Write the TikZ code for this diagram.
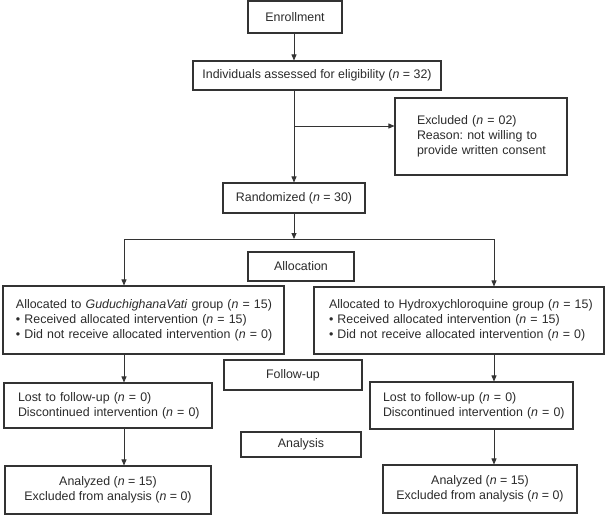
\documentclass[tikz,border=0pt]{standalone}
\usepackage{fontspec}
\setmainfont{Liberation Sans}
\usetikzlibrary{arrows.meta,calc}
\definecolor{ink}{HTML}{2B2B2B}
\definecolor{edge}{HTML}{333333}
\frenchspacing
\begin{document}
\begin{tikzpicture}[x=1pt,y=-1pt,
  box/.style={draw=edge, line width=1.1pt, inner sep=0pt, text=ink,
    font=\fontsize{12.4}{15}\selectfont, align=center},
  lbox/.style={box, align=left},
  arr/.style={draw=edge, line width=0.8pt, -{Triangle[length=6pt,width=5pt]}},
  ln/.style={draw=edge, line width=0.8pt}]
\useasboundingbox[fill=white] (0,0) rectangle (606,515);

\node[box, minimum width=94pt, minimum height=32pt] (enroll) at (295,17) {Enrollment};
\node[box, minimum width=248pt, minimum height=29pt] (elig) at (317,75.5)
  {Individuals assessed for eligibility (\textit{n} = 32)};
\node[lbox, text width=128pt, inner xsep=22pt, minimum height=77pt] (excl) at (481,136.5)
  {\mbox{Excluded (\textit{n} = 02)}\\\mbox{Reason: not willing to}\\\mbox{provide written consent}};
\node[box, minimum width=142pt, minimum height=30pt] (rand) at (294,198)
  {Randomized (\textit{n} = 30)};
\node[box, minimum width=106pt, minimum height=29pt] (alloc) at (301,266.5) {Allocation};

\node[lbox, text width=255pt, inner xsep=13pt, minimum height=68pt] (la) at (143.5,320)
  {\mbox{Allocated to \textit{GuduchighanaVati} group (\textit{n} = 15)}\\
   \mbox{\textbullet{} Received allocated intervention (\textit{n} = 15)}\\
   \mbox{\textbullet{} Did not receive allocated intervention (\textit{n} = 0)}};
\node[lbox, text width=260pt, inner xsep=15pt, minimum height=67pt] (ra) at (459,320.5)
  {\mbox{Allocated to Hydroxychloroquine group (\textit{n} = 15)}\\
   \mbox{\textbullet{} Received allocated intervention (\textit{n} = 15)}\\
   \mbox{\textbullet{} Did not receive allocated intervention (\textit{n} = 0)}};

\node[box, minimum width=138pt, minimum height=30pt] (fu) at (293,375) {Follow-up};
\node[lbox, text width=180pt, inner xsep=14pt, minimum height=45pt] (ll) at (108,405.5)
  {\mbox{Lost to follow-up (\textit{n} = 0)}\\\mbox{Discontinued intervention (\textit{n} = 0)}};
\node[lbox, text width=177pt, inner xsep=13pt, minimum height=47pt] (rl) at (471.5,405.5)
  {\mbox{Lost to follow-up (\textit{n} = 0)}\\\mbox{Discontinued intervention (\textit{n} = 0)}};

\node[box, minimum width=120pt, minimum height=25pt] (an) at (301,444.5) {Analysis};
\node[box, minimum width=206pt, minimum height=48pt] (lan) at (108,490)
  {Analyzed (\textit{n} = 15)\\Excluded from analysis (\textit{n} = 0)};
\node[box, minimum width=194pt, minimum height=48pt] (ran) at (480,489)
  {Analyzed (\textit{n} = 15)\\Excluded from analysis (\textit{n} = 0)};

\coordinate (br) at (294,126);
\coordinate (sl) at (124,239);
\coordinate (sr) at (494,239);

\draw[arr] (enroll.south -| br) -- (br |- elig.north);
\draw[arr] (rand.north |- elig.south) -- (rand.north);
\draw[arr] (br) -- (br -| excl.west);
\draw[arr] (rand.south) -- (rand.south |- sl);
\draw[ln] (sl) -- (sr);
\draw[arr] (sl) -- (sl |- la.north);
\draw[arr] (sr) -- (sr |- ra.north);
\draw[arr] (sl |- la.south) -- (sl |- ll.north);
\draw[arr] (sr |- ra.south) -- (sr |- rl.north);
\draw[arr] (sl |- ll.south) -- (sl |- lan.north);
\draw[arr] (sr |- rl.south) -- (sr |- ran.north);
\end{tikzpicture}
\end{document}
